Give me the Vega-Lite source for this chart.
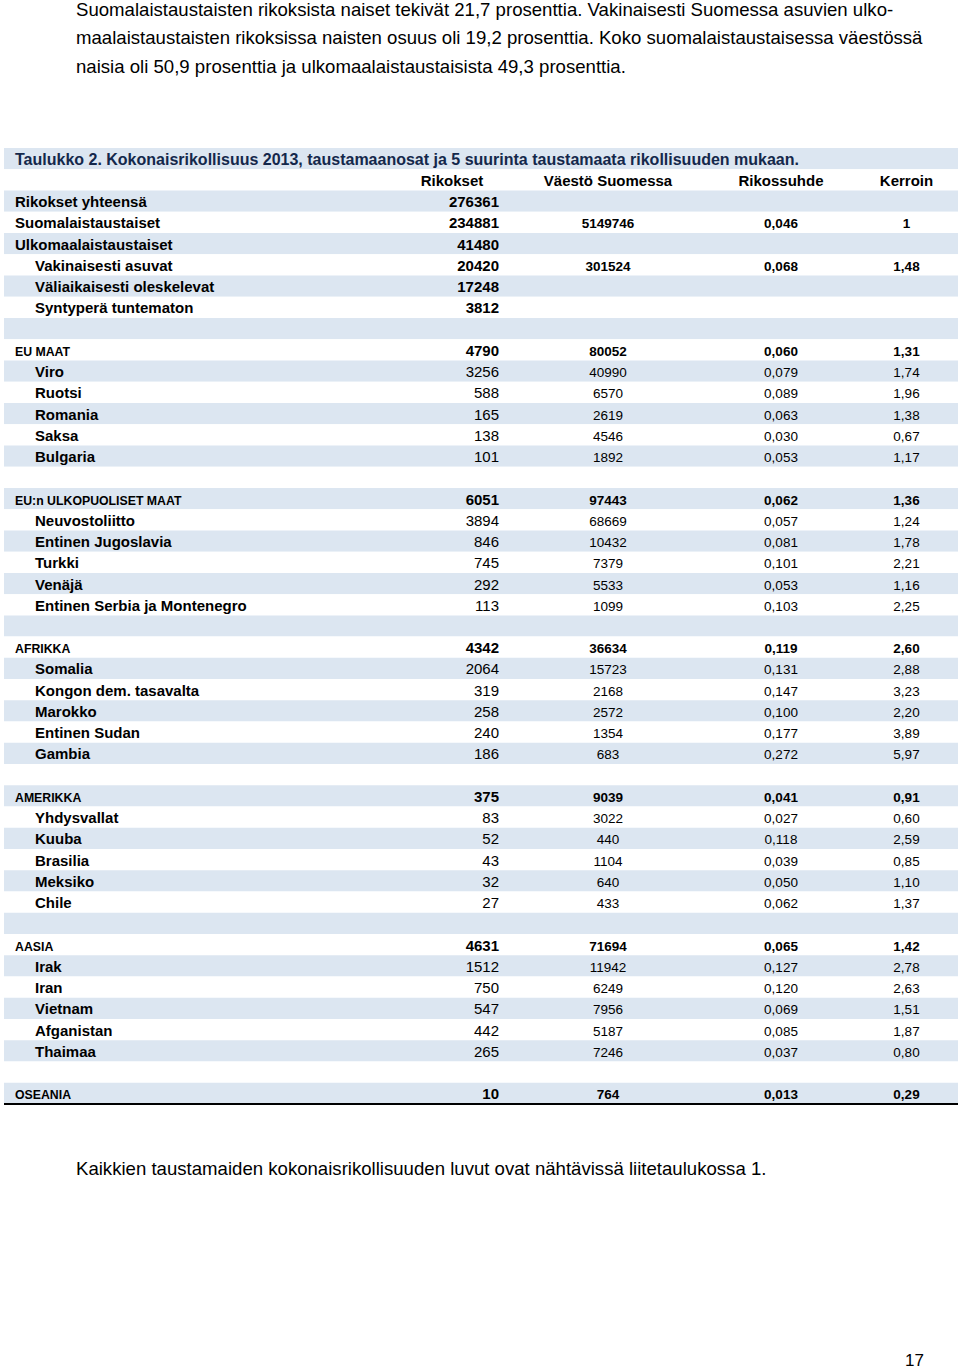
{
  "$schema": "https://vega.github.io/schema/vega-lite/v6.json",
  "padding": {"left": 3, "right": 3, "top": 0, "bottom": 0},
  "spacing": 0,
  "background": "white",
  "config": {"view": {"stroke": null}, "text": {"font": "Liberation Sans", "color": "#000000"}},
  "datasets": {
    "para": [
      {"n": 1, "t": "Suomalaistaustaisten rikoksista naiset tekivät 21,7 prosenttia. Vakinaisesti Suomessa asuvien ulko-"},
      {"n": 2, "t": "maalaistaustaisten rikoksissa naisten osuus oli 19,2 prosenttia. Koko suomalaistaustaisessa väestössä"},
      {"n": 3, "t": "naisia oli 50,9 prosenttia ja ulkomaalaistaustaisista 49,3 prosenttia."}
    ],
    "foot": [
      {"n": 1, "part": "note", "t": "Kaikkien taustamaiden kokonaisrikollisuuden luvut ovat nähtävissä liitetaulukossa 1."},
      {"n": 2, "part": "page", "t": "17"}
    ],
    "table": [
      {"r": 0, "k": "title", "label": "Taulukko 2. Kokonaisrikollisuus 2013, taustamaanosat ja 5 suurinta taustamaata rikollisuuden mukaan.", "rik": "", "vae": "", "suhde": "", "ker": ""},
      {"r": 1, "k": "header", "label": "", "rik": "Rikokset", "vae": "Väestö Suomessa", "suhde": "Rikossuhde", "ker": "Kerroin"},
      {"r": 2, "k": "total", "label": "Rikokset yhteensä", "rik": "276361", "vae": "", "suhde": "", "ker": ""},
      {"r": 3, "k": "total", "label": "Suomalaistaustaiset", "rik": "234881", "vae": "5149746", "suhde": "0,046", "ker": "1"},
      {"r": 4, "k": "total", "label": "Ulkomaalaistaustaiset", "rik": "41480", "vae": "", "suhde": "", "ker": ""},
      {"r": 5, "k": "sub", "label": "Vakinaisesti asuvat", "rik": "20420", "vae": "301524", "suhde": "0,068", "ker": "1,48"},
      {"r": 6, "k": "sub", "label": "Väliaikaisesti oleskelevat", "rik": "17248", "vae": "", "suhde": "", "ker": ""},
      {"r": 7, "k": "sub", "label": "Syntyperä tuntematon", "rik": "3812", "vae": "", "suhde": "", "ker": ""},
      {"r": 8, "k": "blank", "label": "", "rik": "", "vae": "", "suhde": "", "ker": ""},
      {"r": 9, "k": "group", "label": "EU MAAT", "rik": "4790", "vae": "80052", "suhde": "0,060", "ker": "1,31"},
      {"r": 10, "k": "country", "label": "Viro", "rik": "3256", "vae": "40990", "suhde": "0,079", "ker": "1,74"},
      {"r": 11, "k": "country", "label": "Ruotsi", "rik": "588", "vae": "6570", "suhde": "0,089", "ker": "1,96"},
      {"r": 12, "k": "country", "label": "Romania", "rik": "165", "vae": "2619", "suhde": "0,063", "ker": "1,38"},
      {"r": 13, "k": "country", "label": "Saksa", "rik": "138", "vae": "4546", "suhde": "0,030", "ker": "0,67"},
      {"r": 14, "k": "country", "label": "Bulgaria", "rik": "101", "vae": "1892", "suhde": "0,053", "ker": "1,17"},
      {"r": 15, "k": "blank", "label": "", "rik": "", "vae": "", "suhde": "", "ker": ""},
      {"r": 16, "k": "group", "label": "EU:n ULKOPUOLISET MAAT", "rik": "6051", "vae": "97443", "suhde": "0,062", "ker": "1,36"},
      {"r": 17, "k": "country", "label": "Neuvostoliitto", "rik": "3894", "vae": "68669", "suhde": "0,057", "ker": "1,24"},
      {"r": 18, "k": "country", "label": "Entinen Jugoslavia", "rik": "846", "vae": "10432", "suhde": "0,081", "ker": "1,78"},
      {"r": 19, "k": "country", "label": "Turkki", "rik": "745", "vae": "7379", "suhde": "0,101", "ker": "2,21"},
      {"r": 20, "k": "country", "label": "Venäjä", "rik": "292", "vae": "5533", "suhde": "0,053", "ker": "1,16"},
      {"r": 21, "k": "country", "label": "Entinen Serbia ja Montenegro", "rik": "113", "vae": "1099", "suhde": "0,103", "ker": "2,25"},
      {"r": 22, "k": "blank", "label": "", "rik": "", "vae": "", "suhde": "", "ker": ""},
      {"r": 23, "k": "group", "label": "AFRIKKA", "rik": "4342", "vae": "36634", "suhde": "0,119", "ker": "2,60"},
      {"r": 24, "k": "country", "label": "Somalia", "rik": "2064", "vae": "15723", "suhde": "0,131", "ker": "2,88"},
      {"r": 25, "k": "country", "label": "Kongon dem. tasavalta", "rik": "319", "vae": "2168", "suhde": "0,147", "ker": "3,23"},
      {"r": 26, "k": "country", "label": "Marokko", "rik": "258", "vae": "2572", "suhde": "0,100", "ker": "2,20"},
      {"r": 27, "k": "country", "label": "Entinen Sudan", "rik": "240", "vae": "1354", "suhde": "0,177", "ker": "3,89"},
      {"r": 28, "k": "country", "label": "Gambia", "rik": "186", "vae": "683", "suhde": "0,272", "ker": "5,97"},
      {"r": 29, "k": "blank", "label": "", "rik": "", "vae": "", "suhde": "", "ker": ""},
      {"r": 30, "k": "group", "label": "AMERIKKA", "rik": "375", "vae": "9039", "suhde": "0,041", "ker": "0,91"},
      {"r": 31, "k": "country", "label": "Yhdysvallat", "rik": "83", "vae": "3022", "suhde": "0,027", "ker": "0,60"},
      {"r": 32, "k": "country", "label": "Kuuba", "rik": "52", "vae": "440", "suhde": "0,118", "ker": "2,59"},
      {"r": 33, "k": "country", "label": "Brasilia", "rik": "43", "vae": "1104", "suhde": "0,039", "ker": "0,85"},
      {"r": 34, "k": "country", "label": "Meksiko", "rik": "32", "vae": "640", "suhde": "0,050", "ker": "1,10"},
      {"r": 35, "k": "country", "label": "Chile", "rik": "27", "vae": "433", "suhde": "0,062", "ker": "1,37"},
      {"r": 36, "k": "blank", "label": "", "rik": "", "vae": "", "suhde": "", "ker": ""},
      {"r": 37, "k": "group", "label": "AASIA", "rik": "4631", "vae": "71694", "suhde": "0,065", "ker": "1,42"},
      {"r": 38, "k": "country", "label": "Irak", "rik": "1512", "vae": "11942", "suhde": "0,127", "ker": "2,78"},
      {"r": 39, "k": "country", "label": "Iran", "rik": "750", "vae": "6249", "suhde": "0,120", "ker": "2,63"},
      {"r": 40, "k": "country", "label": "Vietnam", "rik": "547", "vae": "7956", "suhde": "0,069", "ker": "1,51"},
      {"r": 41, "k": "country", "label": "Afganistan", "rik": "442", "vae": "5187", "suhde": "0,085", "ker": "1,87"},
      {"r": 42, "k": "country", "label": "Thaimaa", "rik": "265", "vae": "7246", "suhde": "0,037", "ker": "0,80"},
      {"r": 43, "k": "blank", "label": "", "rik": "", "vae": "", "suhde": "", "ker": ""},
      {"r": 44, "k": "group", "label": "OSEANIA", "rik": "10", "vae": "764", "suhde": "0,013", "ker": "0,29"}
    ]
  },
  "vconcat": [
    {
      "width": 954,
      "height": 148,
      "data": {"name": "para"},
      "mark": {"type": "text", "align": "left", "baseline": "alphabetic", "fontSize": 18.6},
      "encoding": {
        "x": {"datum": 0, "type": "quantitative", "axis": null, "scale": {"domain": [0, 1], "range": [72, 920], "zero": false, "nice": false}},
        "y": {"field": "n", "type": "ordinal", "axis": null, "scale": {"type": "point", "padding": 0, "range": [15.5, 73]}},
        "text": {"field": "t"}
      }
    },
    {
      "width": 954,
      "height": 956,
      "data": {"name": "table"},
      "encoding": {
        "y": {"field": "r", "type": "ordinal", "axis": null, "scale": {"type": "band", "paddingInner": 0, "paddingOuter": 0}}
      },
      "layer": [
        {
          "mark": {"type": "rect"},
          "encoding": {
            "color": {"condition": {"test": "datum.r % 2 == 0", "value": "#dce6f1"}, "value": "#ffffff"}
          }
        },
        {
          "transform": [{"filter": "datum.r == 44"}],
          "mark": {"type": "rule", "color": "#000000", "strokeWidth": 2},
          "encoding": {"y": {"field": "r", "type": "ordinal", "axis": null, "bandPosition": 1, "scale": {"type": "band", "paddingInner": 0, "paddingOuter": 0}}}
        },
        {
          "transform": [{"filter": "datum.k == 'title'"}],
          "mark": {"type": "text", "align": "left", "baseline": "alphabetic", "dy": 6, "fontSize": 16, "fontWeight": "bold", "color": "#14284b"},
          "encoding": {
            "x": {"datum": 0, "type": "quantitative", "axis": null, "scale": {"domain": [0, 1, 2, 3, 4], "range": [11, 495, 604, 777, 902.5], "zero": false, "nice": false}},
            "text": {"field": "label"}
          }
        },
        {
          "transform": [{"filter": "datum.k == 'header'"}],
          "mark": {"type": "text", "align": "center", "baseline": "alphabetic", "dy": 6, "dx": -47, "fontSize": 15, "fontWeight": "bold"},
          "encoding": {
            "x": {"datum": 1, "type": "quantitative", "axis": null, "scale": {"domain": [0, 1, 2, 3, 4], "range": [11, 495, 604, 777, 902.5], "zero": false, "nice": false}},
            "text": {"field": "rik"}
          }
        },
        {
          "transform": [{"filter": "datum.k == 'header'"}],
          "mark": {"type": "text", "align": "center", "baseline": "alphabetic", "dy": 6, "fontSize": 15, "fontWeight": "bold"},
          "encoding": {
            "x": {"datum": 2, "type": "quantitative", "axis": null, "scale": {"domain": [0, 1, 2, 3, 4], "range": [11, 495, 604, 777, 902.5], "zero": false, "nice": false}},
            "text": {"field": "vae"}
          }
        },
        {
          "transform": [{"filter": "datum.k == 'header'"}],
          "mark": {"type": "text", "align": "center", "baseline": "alphabetic", "dy": 6, "fontSize": 15, "fontWeight": "bold"},
          "encoding": {
            "x": {"datum": 3, "type": "quantitative", "axis": null, "scale": {"domain": [0, 1, 2, 3, 4], "range": [11, 495, 604, 777, 902.5], "zero": false, "nice": false}},
            "text": {"field": "suhde"}
          }
        },
        {
          "transform": [{"filter": "datum.k == 'header'"}],
          "mark": {"type": "text", "align": "center", "baseline": "alphabetic", "dy": 6, "fontSize": 15, "fontWeight": "bold"},
          "encoding": {
            "x": {"datum": 4, "type": "quantitative", "axis": null, "scale": {"domain": [0, 1, 2, 3, 4], "range": [11, 495, 604, 777, 902.5], "zero": false, "nice": false}},
            "text": {"field": "ker"}
          }
        },
        {
          "transform": [{"filter": "datum.k == 'total'"}],
          "mark": {"type": "text", "align": "left", "baseline": "alphabetic", "dy": 6, "fontSize": 15, "fontWeight": "bold"},
          "encoding": {
            "x": {"datum": 0, "type": "quantitative", "axis": null, "scale": {"domain": [0, 1, 2, 3, 4], "range": [11, 495, 604, 777, 902.5], "zero": false, "nice": false}},
            "text": {"field": "label"}
          }
        },
        {
          "transform": [{"filter": "datum.k == 'sub' || datum.k == 'country'"}],
          "mark": {"type": "text", "align": "left", "baseline": "alphabetic", "dy": 6, "dx": 20, "fontSize": 15, "fontWeight": "bold"},
          "encoding": {
            "x": {"datum": 0, "type": "quantitative", "axis": null, "scale": {"domain": [0, 1, 2, 3, 4], "range": [11, 495, 604, 777, 902.5], "zero": false, "nice": false}},
            "text": {"field": "label"}
          }
        },
        {
          "transform": [{"filter": "datum.k == 'group'"}],
          "mark": {"type": "text", "align": "left", "baseline": "alphabetic", "dy": 6, "fontSize": 12.3, "fontWeight": "bold"},
          "encoding": {
            "x": {"datum": 0, "type": "quantitative", "axis": null, "scale": {"domain": [0, 1, 2, 3, 4], "range": [11, 495, 604, 777, 902.5], "zero": false, "nice": false}},
            "text": {"field": "label"}
          }
        },
        {
          "transform": [{"filter": "datum.k == 'total' || datum.k == 'sub' || datum.k == 'group'"}],
          "mark": {"type": "text", "align": "right", "baseline": "alphabetic", "dy": 6, "fontSize": 15, "fontWeight": "bold"},
          "encoding": {
            "x": {"datum": 1, "type": "quantitative", "axis": null, "scale": {"domain": [0, 1, 2, 3, 4], "range": [11, 495, 604, 777, 902.5], "zero": false, "nice": false}},
            "text": {"field": "rik"}
          }
        },
        {
          "transform": [{"filter": "datum.k == 'country'"}],
          "mark": {"type": "text", "align": "right", "baseline": "alphabetic", "dy": 6, "fontSize": 15},
          "encoding": {
            "x": {"datum": 1, "type": "quantitative", "axis": null, "scale": {"domain": [0, 1, 2, 3, 4], "range": [11, 495, 604, 777, 902.5], "zero": false, "nice": false}},
            "text": {"field": "rik"}
          }
        },
        {
          "transform": [{"filter": "datum.k == 'total' || datum.k == 'sub' || datum.k == 'group'"}],
          "mark": {"type": "text", "align": "center", "baseline": "alphabetic", "dy": 6, "fontSize": 13.5, "fontWeight": "bold"},
          "encoding": {
            "x": {"datum": 2, "type": "quantitative", "axis": null, "scale": {"domain": [0, 1, 2, 3, 4], "range": [11, 495, 604, 777, 902.5], "zero": false, "nice": false}},
            "text": {"field": "vae"}
          }
        },
        {
          "transform": [{"filter": "datum.k == 'total' || datum.k == 'sub' || datum.k == 'group'"}],
          "mark": {"type": "text", "align": "center", "baseline": "alphabetic", "dy": 6, "fontSize": 13.5, "fontWeight": "bold"},
          "encoding": {
            "x": {"datum": 3, "type": "quantitative", "axis": null, "scale": {"domain": [0, 1, 2, 3, 4], "range": [11, 495, 604, 777, 902.5], "zero": false, "nice": false}},
            "text": {"field": "suhde"}
          }
        },
        {
          "transform": [{"filter": "datum.k == 'total' || datum.k == 'sub' || datum.k == 'group'"}],
          "mark": {"type": "text", "align": "center", "baseline": "alphabetic", "dy": 6, "fontSize": 13.5, "fontWeight": "bold"},
          "encoding": {
            "x": {"datum": 4, "type": "quantitative", "axis": null, "scale": {"domain": [0, 1, 2, 3, 4], "range": [11, 495, 604, 777, 902.5], "zero": false, "nice": false}},
            "text": {"field": "ker"}
          }
        },
        {
          "transform": [{"filter": "datum.k == 'country'"}],
          "mark": {"type": "text", "align": "center", "baseline": "alphabetic", "dy": 6, "fontSize": 13.5},
          "encoding": {
            "x": {"datum": 2, "type": "quantitative", "axis": null, "scale": {"domain": [0, 1, 2, 3, 4], "range": [11, 495, 604, 777, 902.5], "zero": false, "nice": false}},
            "text": {"field": "vae"}
          }
        },
        {
          "transform": [{"filter": "datum.k == 'country'"}],
          "mark": {"type": "text", "align": "center", "baseline": "alphabetic", "dy": 6, "fontSize": 13.5},
          "encoding": {
            "x": {"datum": 3, "type": "quantitative", "axis": null, "scale": {"domain": [0, 1, 2, 3, 4], "range": [11, 495, 604, 777, 902.5], "zero": false, "nice": false}},
            "text": {"field": "suhde"}
          }
        },
        {
          "transform": [{"filter": "datum.k == 'country'"}],
          "mark": {"type": "text", "align": "center", "baseline": "alphabetic", "dy": 6, "fontSize": 13.5},
          "encoding": {
            "x": {"datum": 4, "type": "quantitative", "axis": null, "scale": {"domain": [0, 1, 2, 3, 4], "range": [11, 495, 604, 777, 902.5], "zero": false, "nice": false}},
            "text": {"field": "ker"}
          }
        }
      ]
    },
    {
      "width": 954,
      "height": 265,
      "data": {"name": "foot"},
      "layer": [
        {
          "transform": [{"filter": "datum.part == 'note'"}],
          "mark": {"type": "text", "align": "left", "baseline": "alphabetic", "fontSize": 18.6},
          "encoding": {
            "x": {"datum": 0, "type": "quantitative", "axis": null, "scale": {"domain": [0, 1], "range": [72, 920], "zero": false, "nice": false}},
            "y": {"field": "n", "type": "ordinal", "axis": null, "scale": {"type": "point", "padding": 0, "domain": [1, 2], "range": [70, 261]}},
            "text": {"field": "t"}
          }
        },
        {
          "transform": [{"filter": "datum.part == 'page'"}],
          "mark": {"type": "text", "align": "right", "baseline": "alphabetic", "fontSize": 17},
          "encoding": {
            "x": {"datum": 1, "type": "quantitative", "axis": null, "scale": {"domain": [0, 1], "range": [72, 920], "zero": false, "nice": false}},
            "y": {"field": "n", "type": "ordinal", "axis": null, "scale": {"type": "point", "padding": 0, "domain": [1, 2], "range": [70, 261]}},
            "text": {"field": "t"}
          }
        }
      ]
    }
  ]
}
